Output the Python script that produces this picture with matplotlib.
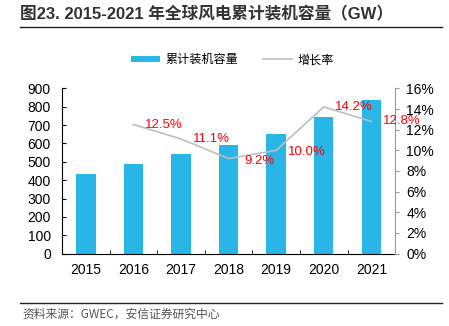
import matplotlib
matplotlib.use("Agg")
import matplotlib.pyplot as plt
from matplotlib.lines import Line2D
from matplotlib.patches import Patch
from matplotlib.ticker import FuncFormatter, FixedLocator

plt.rcParams['font.family'] = ['Liberation Sans', 'Noto Sans CJK SC', 'DejaVu Sans']
plt.rcParams['axes.unicode_minus'] = False

# 全球风电累计装机容量（GW）及增长率
years = ['2015', '2016', '2017', '2018', '2019', '2020', '2021']
capacity = [433, 487, 540, 591, 651, 743, 837]
growth = [None, 12.5, 11.1, 9.2, 10.0, 14.2, 12.8]
growth_labels = ['12.5%', '11.1%', '9.2%', '10.0%', '14.2%', '12.8%']

BAR_COLOR = '#29B6E6'
LINE_COLOR = '#BEBEBE'
TICK_FS = 10

fig = plt.figure(figsize=(4.49, 3.26), dpi=100)
ax = fig.add_axes([0.138, 0.222, 0.742, 0.507])
ax2 = ax.twinx()

x = list(range(len(years)))
ax.bar(x, capacity, width=0.41, color=BAR_COLOR, zorder=2)
ax.set_xlim(-0.5, len(years) - 0.5)
ax.set_ylim(0, 900)
ax.set_yticks(range(0, 901, 100))
ax.set_xticks(x)
ax.set_xticklabels(years)
ax.xaxis.set_minor_locator(FixedLocator([i + 0.5 for i in x]))
ax.tick_params(axis='x', which='major', length=0, labelsize=TICK_FS, pad=7)
ax.tick_params(axis='x', which='minor', direction='in', length=3)
ax.tick_params(axis='y', direction='in', length=3, labelsize=TICK_FS, pad=8)
for s in ['top', 'right']:
    ax.spines[s].set_visible(False)
ax.spines['left'].set_linewidth(0.8)
ax.spines['bottom'].set_linewidth(0.8)

# 增长率折线（右轴）
gx = [i for i, g in zip(x, growth) if g is not None]
gy = [g / 100 for g in growth if g is not None]
ax2.plot(gx, gy, color=LINE_COLOR, linewidth=1.2, zorder=3)
ax2.set_ylim(0, 0.16)
ax2.set_yticks([i / 100 for i in range(0, 17, 2)])
ax2.yaxis.set_major_formatter(FuncFormatter(lambda v, p: f'{v * 100:.0f}%'))
ax2.tick_params(axis='y', direction='out', length=3, color='#999999', labelsize=TICK_FS, pad=5)
for s in ['top', 'left', 'bottom']:
    ax2.spines[s].set_visible(False)
ax2.spines['right'].set_color('#999999')
ax2.spines['right'].set_linewidth(0.8)

for xi, yi, lab in zip(gx, gy, growth_labels):
    dy = -1.5 if lab in ('9.2%', '10.0%') else 0
    ax2.annotate(lab, (xi, yi), xytext=(22, dy), textcoords='offset points',
                 ha='center', va='center', color='#FF0000', fontsize=9.5, zorder=4)

# 图例
handles = [Patch(facecolor=BAR_COLOR, edgecolor='none'),
           Line2D([0], [0], color=LINE_COLOR, linewidth=1.2)]
fig.legend(handles, ['累计装机容量', '增长率'], loc='center', bbox_to_anchor=(0.518, 0.815),
           ncol=2, frameon=False, fontsize=8.7, handlelength=2.4, handleheight=0.5,
           columnspacing=2.0, handletextpad=0.5)

# 标题与来源
fig.text(0.045, 0.957, '图23. 2015-2021 年全球风电累计装机容量（GW）', fontsize=12,
         fontweight='bold', color='#333333', va='center', ha='left',
         family=['Liberation Sans', 'Noto Sans CJK SC'])
fig.add_artist(Line2D([0.045, 0.985], [0.918, 0.918], color='#222222', linewidth=1.0))
fig.add_artist(Line2D([0.045, 0.985], [0.071, 0.071], color='#222222', linewidth=1.0))
fig.text(0.05, 0.037, '资料来源：GWEC，安信证券研究中心', fontsize=8.5, color='#555555',
         va='center', ha='left', style='italic', family=['Noto Sans CJK SC', 'DejaVu Sans'])

fig.savefig('out.png', dpi=100)
